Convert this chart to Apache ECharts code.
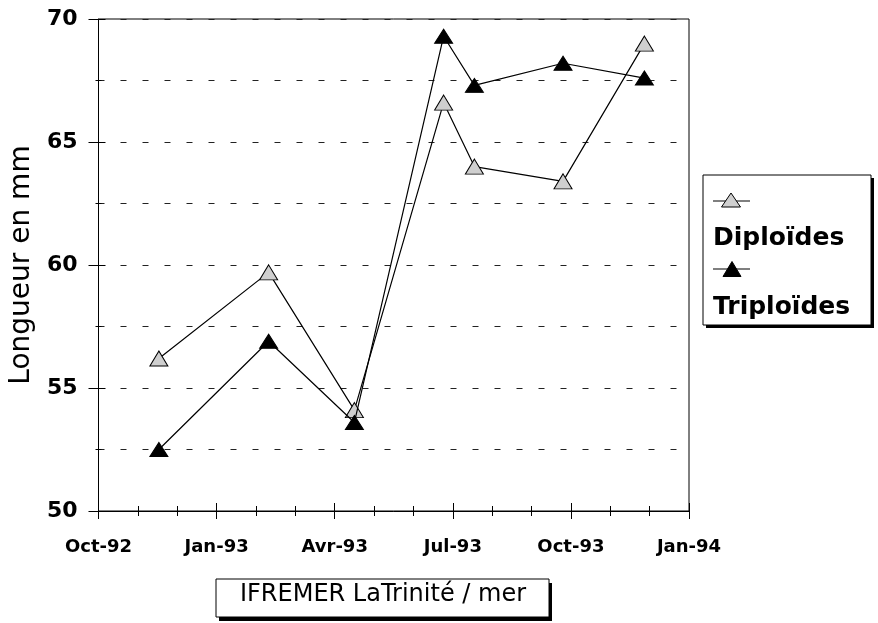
<!DOCTYPE html>
<html>
<head>
<meta charset="utf-8">
<script src="https://cdn.jsdelivr.net/npm/echarts/dist/echarts.min.js"></script>
<style>
  html, body { margin: 0; padding: 0; background: #ffffff; }
  #chart { width: 878px; height: 623px; }
</style>
</head>
<body>
<div id="chart"></div>
<script>
// ---- data ----
const sampleDates = ['1992-11-17', '1993-02-10', '1993-04-16', '1993-06-24', '1993-07-18', '1993-09-25', '1993-11-27'];
const diploides = [56.2, 59.7, 54.1, 66.6, 64.0, 63.4, 69.0];
const triploides = [52.5, 56.9, 53.6, 69.3, 67.3, 68.2, 67.6];
const xTickLabels = ['Oct-92', 'Jan-93', 'Avr-93', 'Jul-93', 'Oct-93', 'Jan-94'];
const seriesNames = ['Diploïdes', 'Triploïdes'];
const yTitle = 'Longueur en mm';
const footerText = 'IFREMER LaTrinité / mer';

// months elapsed since 1 Oct 1992
function monthsSinceOct92(s) {
  const p = s.split('-').map(Number);
  const dim = new Date(p[0], p[1], 0).getDate();
  return (p[0] - 1992) * 12 + (p[1] - 10) + (p[2] - 1) / dim;
}
const xs = sampleDates.map(monthsSinceOct92);

const FONT = 'DejaVu Sans';
const chart = echarts.init(document.getElementById('chart'), null, { renderer: 'canvas' });

const gridL = 95, gridT = 19, gridW = 594, gridH = 492;

function tri(cx, cy, w, h) {
  return [[cx, cy - h / 2], [cx + w / 2, cy + h / 2], [cx - w / 2, cy + h / 2]];
}

const option = {
  backgroundColor: '#ffffff',
  animation: false,
  grid: {
    left: gridL, top: gridT, width: gridW, height: gridH,
    show: true, borderColor: '#000', borderWidth: 1, backgroundColor: 'transparent'
  },
  xAxis: [
    {
      type: 'value', min: 0, max: 15, interval: 3, position: 'bottom',
      axisLine: { show: true, onZero: false, lineStyle: { color: '#000', width: 1 } },
      axisTick: { show: true, length: 8, lineStyle: { color: '#000', width: 1 } },
      minorTick: { show: true, splitNumber: 3, length: 5, lineStyle: { color: '#000', width: 1 } },
      axisLabel: {
        margin: 27, color: '#000', fontFamily: FONT, fontWeight: 'bold', fontSize: 18,
        formatter: function (v) { return xTickLabels[Math.round(v / 3)] || ''; }
      },
      splitLine: { show: false }
    },
    {
      type: 'value', min: 0, max: 15, interval: 3, position: 'bottom',
      axisLine: { show: false, onZero: false },
      axisTick: { show: true, inside: true, length: 8, lineStyle: { color: '#000', width: 1 } },
      minorTick: { show: true, splitNumber: 3, length: 5, lineStyle: { color: '#000', width: 1 } },
      axisLabel: { show: false },
      splitLine: { show: false }
    }
  ],
  yAxis: [
    {
      type: 'value', min: 50, max: 70, interval: 5,
      axisLine: { show: true, onZero: false, lineStyle: { color: '#000', width: 1 } },
      axisTick: { show: true, length: 10, lineStyle: { color: '#000', width: 1 } },
      minorTick: { show: true, splitNumber: 2, length: 3, lineStyle: { color: '#000', width: 1 } },
      axisLabel: { margin: 21, color: '#000', fontFamily: FONT, fontWeight: 'bold', fontSize: 22 },
      splitLine: { show: true, lineStyle: { color: '#222', width: 1, type: [6, 16] } },
      minorSplitLine: { show: true, lineStyle: { color: '#222', width: 1, type: [6, 16] } },
      name: yTitle, nameLocation: 'middle', nameGap: 55,
      nameTextStyle: { color: '#000', fontFamily: FONT, fontSize: 28, fontWeight: 'normal' }
    },
    {
      type: 'value', min: 50, max: 70, interval: 5, position: 'left',
      axisLine: { show: false, onZero: false },
      axisTick: { show: true, inside: true, length: 7, lineStyle: { color: '#000', width: 1 } },
      minorTick: { show: true, splitNumber: 2, length: 3, lineStyle: { color: '#000', width: 1 } },
      axisLabel: { show: false },
      splitLine: { show: false }
    }
  ],
  series: [
    {
      name: seriesNames[0], type: 'line',
      data: xs.map((x, i) => [x, diploides[i]]),
      symbol: 'triangle', symbolSize: [18, 15], showSymbol: true,
      itemStyle: { color: '#cfcfcf', borderColor: '#000', borderWidth: 1 },
      lineStyle: { color: '#000', width: 1.2 },
      z: 3
    },
    {
      name: seriesNames[1], type: 'line',
      data: xs.map((x, i) => [x, triploides[i]]),
      symbol: 'triangle', symbolSize: [18, 14], showSymbol: true,
      itemStyle: { color: '#000', borderColor: '#000', borderWidth: 1 },
      lineStyle: { color: '#000', width: 1.2 },
      z: 4
    }
  ],
  graphic: [
    // legend box
    { type: 'rect', shape: { x: 706, y: 178, width: 168, height: 150 }, style: { fill: '#000' }, z: 10 },
    { type: 'rect', shape: { x: 703, y: 175, width: 168, height: 150 }, style: { fill: '#fff', stroke: '#000', lineWidth: 1 }, z: 11 },
    { type: 'line', shape: { x1: 713, y1: 201, x2: 750, y2: 201 }, style: { stroke: '#000', lineWidth: 1.2 }, z: 12 },
    { type: 'polygon', shape: { points: tri(731, 200, 19, 14) }, style: { fill: '#cfcfcf', stroke: '#000', lineWidth: 1 }, z: 13 },
    { type: 'text', x: 713, y: 238, style: { text: seriesNames[0], fill: '#000', font: 'bold 25px "DejaVu Sans"', verticalAlign: 'middle', align: 'left' }, z: 12 },
    { type: 'line', shape: { x1: 713, y1: 269, x2: 750, y2: 269 }, style: { stroke: '#000', lineWidth: 1.2 }, z: 12 },
    { type: 'polygon', shape: { points: tri(732, 269, 18, 15) }, style: { fill: '#000', stroke: '#000', lineWidth: 1 }, z: 13 },
    { type: 'text', x: 713, y: 307, style: { text: seriesNames[1], fill: '#000', font: 'bold 25px "DejaVu Sans"', verticalAlign: 'middle', align: 'left' }, z: 12 },
    // footer box
    { type: 'rect', shape: { x: 219, y: 583, width: 333, height: 38 }, style: { fill: '#000' }, z: 10 },
    { type: 'rect', shape: { x: 216, y: 579, width: 333, height: 38 }, style: { fill: '#fff', stroke: '#000', lineWidth: 1 }, z: 11 },
    { type: 'text', x: 383, y: 595, style: { text: footerText, fill: '#000', font: '24px "DejaVu Sans"', verticalAlign: 'middle', align: 'center' }, z: 12 }
  ]
};
chart.setOption(option);
</script>
</body>
</html>
